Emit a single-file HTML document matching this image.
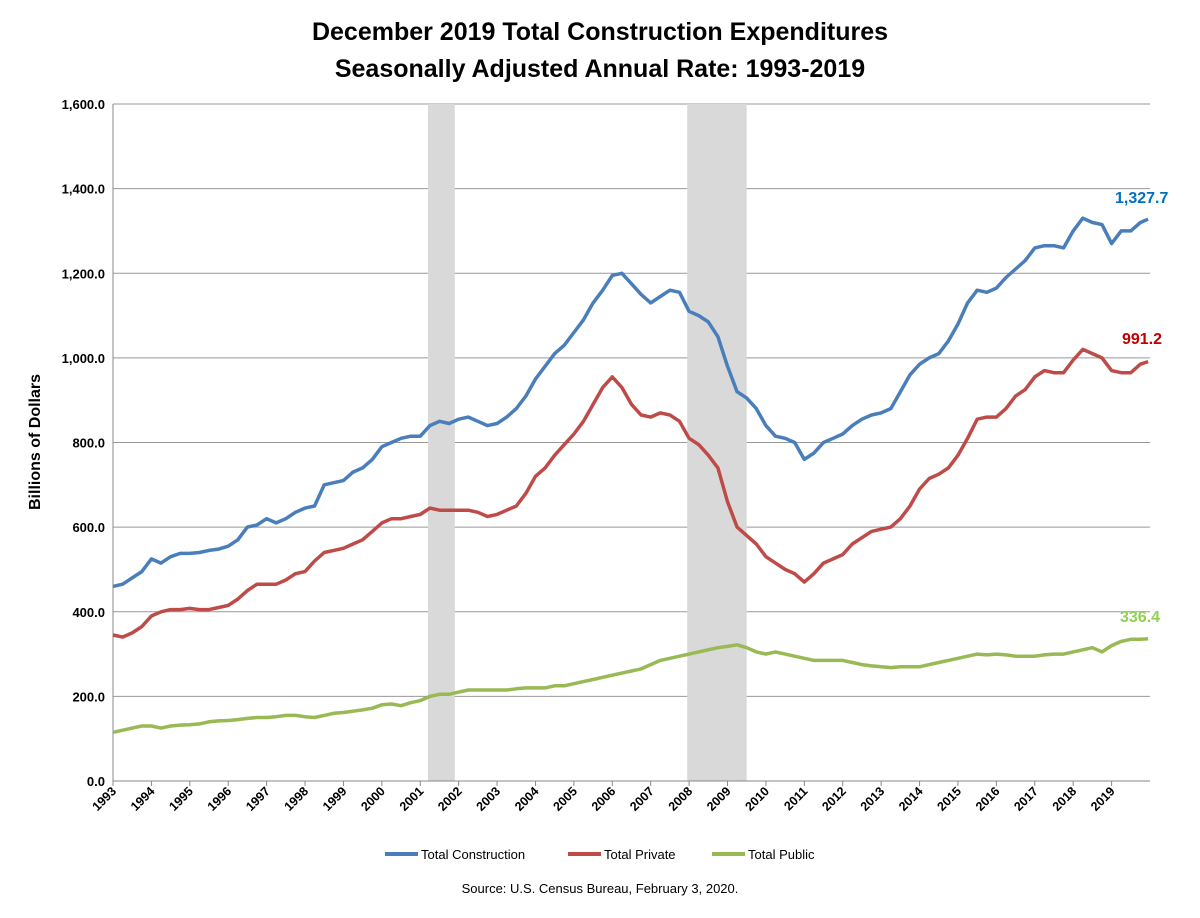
<!DOCTYPE html>
<html><head><meta charset="utf-8"><style>
body{margin:0;background:#fff;font-family:"Liberation Sans",Arial,sans-serif}
svg text{font-family:"Liberation Sans",Arial,sans-serif}
</style></head><body>
<svg id="chart" width="1200" height="913" xmlns="http://www.w3.org/2000/svg">
<text x="600" y="40" text-anchor="middle" font-size="25" font-weight="bold">December 2019 Total Construction Expenditures</text>
<text x="600" y="77" text-anchor="middle" font-size="25" font-weight="bold">Seasonally Adjusted Annual Rate: 1993-2019</text>
<text transform="translate(40,442) rotate(-90)" text-anchor="middle" font-size="16" font-weight="bold">Billions of Dollars</text>
<g id="grid"></g><g id="rec"></g><g id="axes"></g><g id="lines"></g>
<text x="1115" y="203" font-size="16" font-weight="bold" fill="#0070c0">1,327.7</text>
<text x="1122" y="344" font-size="16" font-weight="bold" fill="#c00000">991.2</text>
<text x="1120" y="622" font-size="16" font-weight="bold" fill="#92d050">336.4</text>
<g font-size="13">
<line x1="385" y1="854" x2="418" y2="854" stroke="#4a7ebb" stroke-width="4"/><text x="421" y="859">Total Construction</text>
<line x1="568" y1="854" x2="601" y2="854" stroke="#be4b48" stroke-width="4"/><text x="604" y="859">Total Private</text>
<line x1="712" y1="854" x2="745" y2="854" stroke="#98b954" stroke-width="4"/><text x="748" y="859">Total Public</text>
</g>
<text x="600" y="893" text-anchor="middle" font-size="13">Source: U.S. Census Bureau, February 3, 2020.</text>
</svg>
<script>
const total=[460,465,480,495,525,515,530,538,538,540,545,548,555,570,600,605,620,610,620,635,645,650,700,705,710,730,740,760,790,800,810,815,815,840,850,845,855,860,850,840,845,860,880,910,950,980,1010,1030,1060,1090,1130,1160,1195,1200,1175,1150,1130,1145,1160,1155,1110,1100,1085,1050,980,920,905,880,840,815,810,800,760,775,800,810,820,840,855,865,870,880,920,960,985,1000,1010,1040,1080,1130,1160,1155,1165,1190,1210,1230,1260,1265,1265,1260,1300,1330,1320,1315,1270,1300,1300,1320,1327.7];
const priv=[345,340,350,365,390,400,405,405,408,405,405,410,415,430,450,465,465,465,475,490,495,520,540,545,550,560,570,590,610,620,620,625,630,645,640,640,640,640,635,625,630,640,650,680,720,740,770,795,820,850,890,930,955,930,890,865,860,870,865,850,810,795,770,740,660,600,580,560,530,515,500,490,470,490,515,525,535,560,575,590,595,600,620,650,690,715,725,740,770,810,855,860,860,880,910,925,955,970,965,965,995,1020,1010,1000,970,965,965,985,991.2];
const pub=[115,120,125,130,130,125,130,132,133,135,140,142,143,145,148,150,150,152,155,155,152,150,155,160,162,165,168,172,180,182,178,185,190,200,205,205,210,215,215,215,215,215,218,220,220,220,225,225,230,235,240,245,250,255,260,265,275,285,290,295,300,305,310,315,318,322,315,305,300,305,300,295,290,285,285,285,285,280,275,272,270,268,270,270,270,275,280,285,290,295,300,298,300,298,295,295,295,298,300,300,305,310,315,305,320,330,335,335,336.4];
const yTicks=[0,200,400,600,800,1000,1200,1400,1600];
const years=[1993,1994,1995,1996,1997,1998,1999,2000,2001,2002,2003,2004,2005,2006,2007,2008,2009,2010,2011,2012,2013,2014,2015,2016,2017,2018,2019];
const recessions=[[2001.2,2001.9],[2007.95,2009.5]];
const X0=113,X1=1150,Y0=781,Y1=104;
const x=t=>X0+(t-1993)/27*(X1-X0);
const y=v=>Y0-v/1600*(Y0-Y1);
const tAt=i=>i<total.length-1?1993+i*0.25:2019.95;
const NS="http://www.w3.org/2000/svg";
function mk(tag,attrs,parent){const e=document.createElementNS(NS,tag);for(const k in attrs)e.setAttribute(k,attrs[k]);document.getElementById(parent).appendChild(e);return e;}
yTicks.forEach(v=>{
 const l=mk('line',{x1:X0,x2:X1,y1:y(v),y2:y(v),stroke:v===0?'#888':'#999','stroke-width':1},'grid');
 
 
 const t=mk('text',{x:105,y:y(v)+5,'text-anchor':'end','font-size':13,'font-weight':'bold'},'axes');
 t.textContent=v.toFixed(1).replace(/\B(?=(\d{3})+(?!\d))/,',');
 
 
});
recessions.forEach(r=>{
 const e=mk('rect',{x:x(r[0]),y:Y1,width:x(r[1])-x(r[0]),height:Y0-Y1,fill:'#d9d9d9'},'rec');
 
 
});
const ax=mk('path',{d:`M${X0} ${Y1}V${Y0}H${X1}`,stroke:'#888',fill:'none'},'axes');


years.forEach(yr=>{
 const px=x(yr);
 mk('line',{x1:px,x2:px,y1:Y0,y2:Y0+5,stroke:'#888'},'axes');
 const t=mk('text',{transform:`translate(${px+4},${Y0+11}) rotate(-45)`,'text-anchor':'end','font-size':12.5,'font-weight':'bold'},'axes');
 t.textContent=yr;
 
 
});
[[total,'#4a7ebb','line-total-construction'],[priv,'#be4b48','line-total-private'],[pub,'#98b954','line-total-public']].forEach(([arr,c,n])=>{
 const d=arr.map((v,i)=>(i?'L':'M')+x(tAt(i)).toFixed(1)+' '+y(v).toFixed(1)).join('');
 const p=mk('path',{d:d,stroke:c,'stroke-width':3.5,fill:'none','stroke-linejoin':'round'},'lines');
 
 
});
</script>
</body></html>
